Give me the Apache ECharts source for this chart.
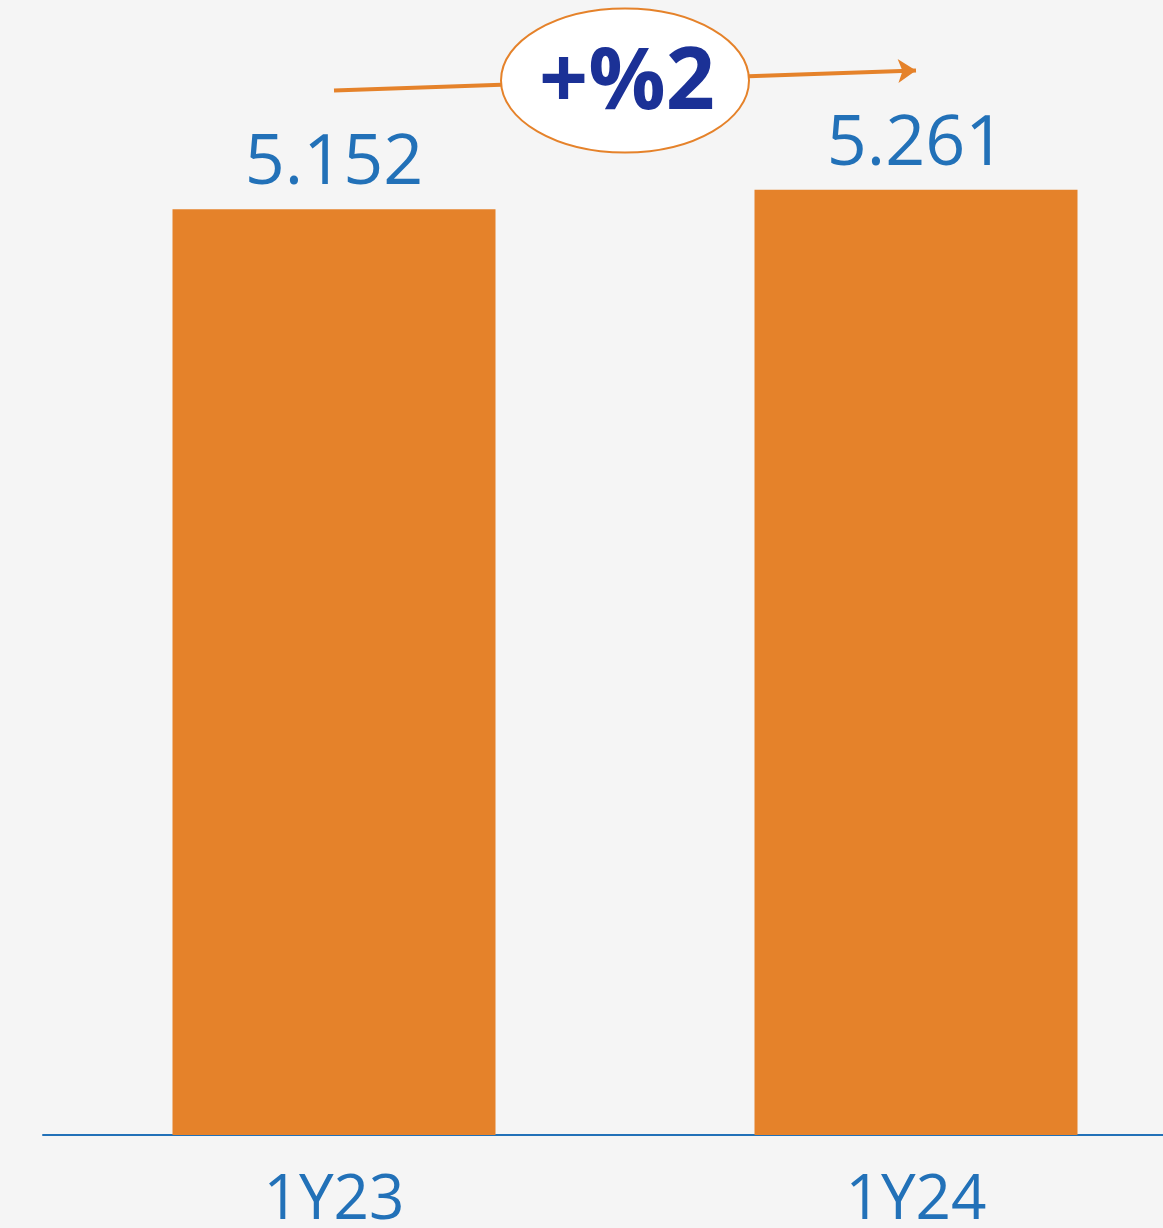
<!DOCTYPE html>
<html>
<head>
<meta charset="utf-8">
<script src="https://cdn.jsdelivr.net/npm/echarts@6/dist/echarts.min.js"></script>
<style>
  html, body { margin: 0; padding: 0; background: #f5f5f5; }
  #chart { width: 1163px; height: 1228px; }
</style>
</head>
<body>
<div id="chart"></div>
<script>
// data
const categories = ['1Y23', '1Y24']
const values = [5152, 5261]
const valueLabels = ['5.152', '5.261']
const changeLabel = '+%2'
// arrow ends (value-axis units)
const arrowLevels = [5814, 5925]

const chart = echarts.init(document.getElementById('chart'))

chart.setOption({
  animation: false,
  backgroundColor: '#f5f5f5',
  grid: {
    left: 43,
    width: 1164,
    top: 57,
    bottom: 93,
    containLabel: false,
    outerBoundsMode: 'none'
  },
  xAxis: {
    type: 'category',
    data: categories,
    axisLine: { lineStyle: { color: '#2271b8', width: 2 } },
    axisTick: { show: false },
    axisLabel: {
      color: '#2271b8',
      fontFamily: 'Open Sans',
      fontSize: 62,
      margin: 35
    }
  },
  yAxis: {
    type: 'value',
    min: 0,
    max: 6000,
    show: false,
    splitLine: { show: false }
  },
  series: [{
    type: 'bar',
    data: values,
    barWidth: 323,
    itemStyle: { color: '#e5822a' },
    label: {
      show: true,
      position: 'top',
      distance: 10,
      color: '#2271b8',
      fontFamily: 'Open Sans',
      fontSize: 70,
      formatter: p => valueLabels[p.dataIndex]
    },
    markLine: {
      silent: true,
      symbol: ['none', 'arrow'],
      symbolSize: [18, 18],
      label: { show: false },
      lineStyle: { color: '#e5822a', width: 4, type: 'solid' },
      data: [[
        { coord: [categories[0], arrowLevels[0]] },
        { coord: [categories[1], arrowLevels[1]] }
      ]]
    }
  }]
})

// bubble in the middle of the arrow
const p1 = chart.convertToPixel({ seriesIndex: 0 }, [categories[0], arrowLevels[0]])
const p2 = chart.convertToPixel({ seriesIndex: 0 }, [categories[1], arrowLevels[1]])
const cx = (p1[0] + p2[0]) / 2
const cy = (p1[1] + p2[1]) / 2

chart.setOption({
  graphic: [{
    type: 'ellipse',
    shape: { cx: cx, cy: cy, rx: 124, ry: 72 },
    style: { fill: '#ffffff', stroke: '#e5822a', lineWidth: 2 },
    z: 100
  }, {
    type: 'text',
    x: cx + 2,
    y: cy + 4,
    style: {
      text: changeLabel,
      fill: '#1b3196',
      font: 'bold 86px "Open Sans"',
      align: 'center',
      verticalAlign: 'middle'
    },
    z: 101
  }]
})
</script>
</body>
</html>
